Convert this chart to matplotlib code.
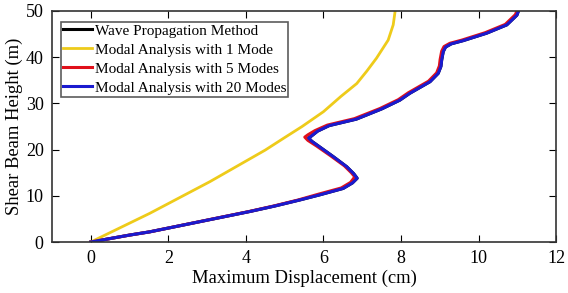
import numpy as np
import matplotlib.pyplot as plt

plt.rcParams['font.family'] = ['Liberation Serif', 'DejaVu Serif']

# heights (m) and displacements (cm)
h_one = [0, 6.2, 13.05, 19.9, 22.6, 25.0, 28.2, 31.5, 34.3, 37.0, 39.8, 43.7, 47.0, 50]
d_one = [0, 1.52, 3.07, 4.5, 5.0, 5.45, 6.0, 6.45, 6.86, 7.12, 7.37, 7.67, 7.8, 7.85]

h_wave = [0, 1.5, 2.2, 4.4, 6.6, 7.8, 9.1, 10.2, 11.6, 12.8, 13.8, 14.8, 16.3, 18.5,
          20.6, 21.8, 22.5, 23.0, 24.0, 25.2, 26.6, 28.8, 30.7, 32.2, 34.7, 36.5,
          38.0, 39.4, 41.2, 42.2, 42.9, 43.6, 45.2, 47.0, 49.1, 50]
d_wave = [0, 1.0, 1.52, 2.81, 4.1, 4.75, 5.39, 5.9, 6.51, 6.75, 6.87, 6.78, 6.6, 6.25,
          5.9, 5.7, 5.62, 5.7, 5.85, 6.15, 6.85, 7.5, 7.97, 8.23, 8.75, 8.96,
          9.03, 9.05, 9.09, 9.15, 9.3, 9.61, 10.21, 10.73, 10.99, 11.03]

h_five = [0, 1.5, 2.2, 4.4, 6.6, 7.8, 9.1, 10.3, 11.7, 12.9, 14.1, 15.0, 16.5, 18.7,
          20.8, 22.0, 22.7, 23.2, 24.1, 25.3, 26.7, 28.9, 30.8, 32.3, 34.8, 36.6,
          38.1, 39.5, 41.3, 42.3, 43.0, 43.7, 45.3, 47.1, 49.2, 50]
d_five = [0, 1.0, 1.52, 2.8, 4.08, 4.72, 5.35, 5.85, 6.46, 6.7, 6.81, 6.72, 6.54, 6.18,
          5.82, 5.6, 5.52, 5.6, 5.78, 6.1, 6.8, 7.46, 7.93, 8.19, 8.71, 8.92,
          8.99, 9.01, 9.05, 9.11, 9.26, 9.57, 10.17, 10.69, 10.95, 10.99]

h_twenty = h_wave
d_twenty = d_wave

fig = plt.figure(figsize=(5.68, 2.93), dpi=100)
ax = fig.add_axes([0.0915, 0.174, 0.8875, 0.7885])

ax.plot(d_wave, h_wave, color='black', lw=2.2, label='Wave Propagation Method')
ax.plot(d_one, h_one, color='#EECB1A', lw=2, label='Modal Analysis with 1 Mode')
ax.plot(d_five, h_five, color='#E0101A', lw=2.2, label='Modal Analysis with 5 Modes')
ax.plot(d_twenty, h_twenty, color='#1A1ACF', lw=2.2, label='Modal Analysis with 20 Modes')

ax.set_xlim(-1, 12)
ax.set_ylim(0, 50)
ax.set_xticks(range(0, 13, 2))
ax.set_yticks(range(0, 51, 10))
ax.tick_params(direction='in', top=True, right=True, labelsize=13, length=5, pad=6)
for s in ax.spines.values():
    s.set_linewidth(1.2)
    s.set_color('#333333')

ax.set_xlabel('Maximum Displacement (cm)', fontsize=13.4, labelpad=2)
ax.set_ylabel('Shear Beam Height (m)', fontsize=13.4, labelpad=2)

leg = ax.legend(loc='upper left', bbox_to_anchor=(0.018, 0.954), fontsize=11,
                fancybox=False, edgecolor='#333333', borderpad=0.15,
                labelspacing=0.35, handlelength=1.9, handletextpad=0.15,
                borderaxespad=0)
leg.get_frame().set_linewidth(1.2)

fig.savefig('out.png', dpi=100)
